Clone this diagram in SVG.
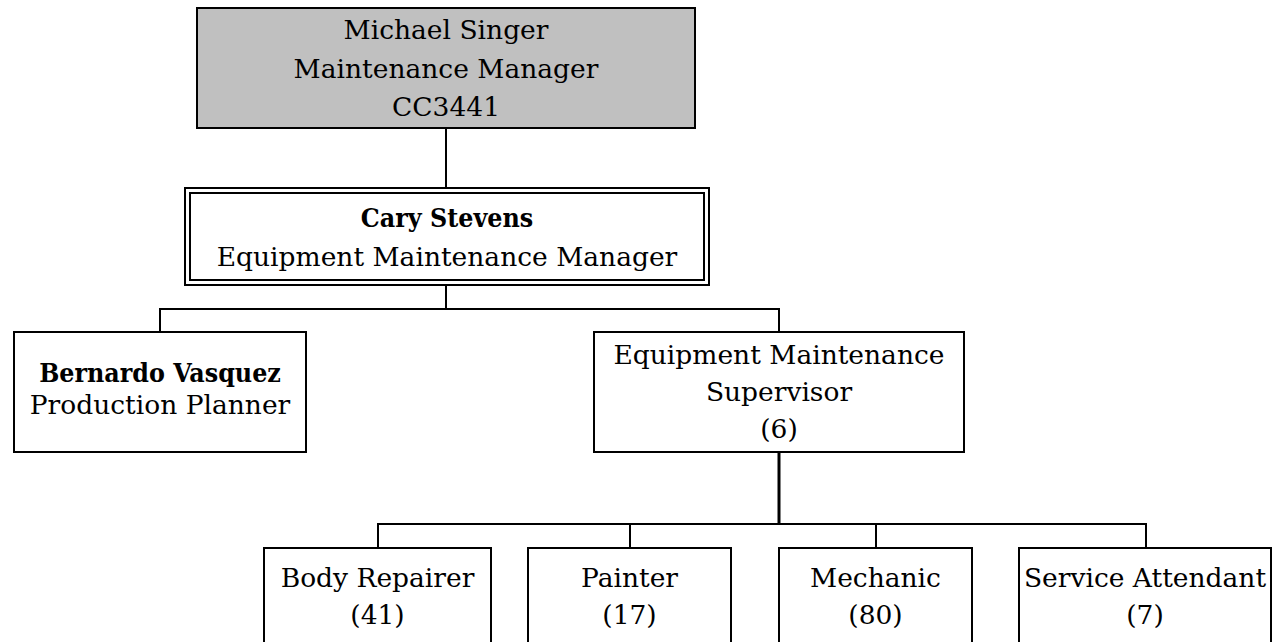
<svg xmlns="http://www.w3.org/2000/svg" width="1274" height="642" viewBox="0 0 1274 642">
<style>
.box{fill:#ffffff;stroke:#000000;stroke-width:2}
.gray{fill:#c0c0c0;stroke:#000000;stroke-width:2}
.dbl{fill:none;stroke:#000000;stroke-width:2}
.t{font-family:"DejaVu Serif","Liberation Serif",serif;font-size:26.5px;fill:#000000;text-anchor:middle}
.b{font-family:"DejaVu Serif Condensed","DejaVu Serif",serif;font-stretch:condensed;font-weight:bold}
.c{fill:none;stroke:#000000;stroke-width:2}
.ct{fill:none;stroke:#000000;stroke-width:3}
</style>
<rect width="1274" height="642" fill="#ffffff"/>
<g id="connectors">
<path class="c" d="M446 128 V188"/>
<path class="c" d="M446 285 V309 M160 309 H779 M160 308 V332 M779 308 V332"/>
<path class="ct" d="M779 452 V524"/>
<path class="c" d="M378 524 H1146 M378 523 V548 M630 523 V548 M876 523 V548 M1146 523 V548"/>
</g>
<g id="michael">
<rect class="gray" x="197" y="8" width="498" height="120"/>
<text class="t" x="446" y="39">Michael Singer</text>
<text class="t" x="446" y="78">Maintenance Manager</text>
<text class="t" x="446" y="116">CC3441</text>
</g>
<g id="cary">
<rect class="box" x="185" y="188" width="524" height="97"/>
<rect class="dbl" x="190" y="193" width="514" height="87"/>
<text class="t b" x="447" y="227">Cary Stevens</text>
<text class="t" x="447" y="266">Equipment Maintenance Manager</text>
</g>
<g id="bernardo">
<rect class="box" x="14" y="332" width="292" height="120"/>
<text class="t b" x="160" y="382">Bernardo Vasquez</text>
<text class="t" x="160" y="414">Production Planner</text>
</g>
<g id="supervisor">
<rect class="box" x="594" y="332" width="370" height="120"/>
<text class="t" x="779" y="364">Equipment Maintenance</text>
<text class="t" x="779" y="401">Supervisor</text>
<text class="t" x="779" y="438">(6)</text>
</g>
<g id="body">
<rect class="box" x="264" y="548" width="227" height="110"/>
<text class="t" x="377.5" y="587">Body Repairer</text>
<text class="t" x="377.5" y="624">(41)</text>
</g>
<g id="painter">
<rect class="box" x="528" y="548" width="203" height="110"/>
<text class="t" x="629.5" y="587">Painter</text>
<text class="t" x="629.5" y="624">(17)</text>
</g>
<g id="mechanic">
<rect class="box" x="779" y="548" width="193" height="110"/>
<text class="t" x="875.5" y="587">Mechanic</text>
<text class="t" x="875.5" y="624">(80)</text>
</g>
<g id="service">
<rect class="box" x="1019" y="548" width="252" height="110"/>
<text class="t" x="1145" y="587">Service Attendant</text>
<text class="t" x="1145" y="624">(7)</text>
</g>
</svg>
